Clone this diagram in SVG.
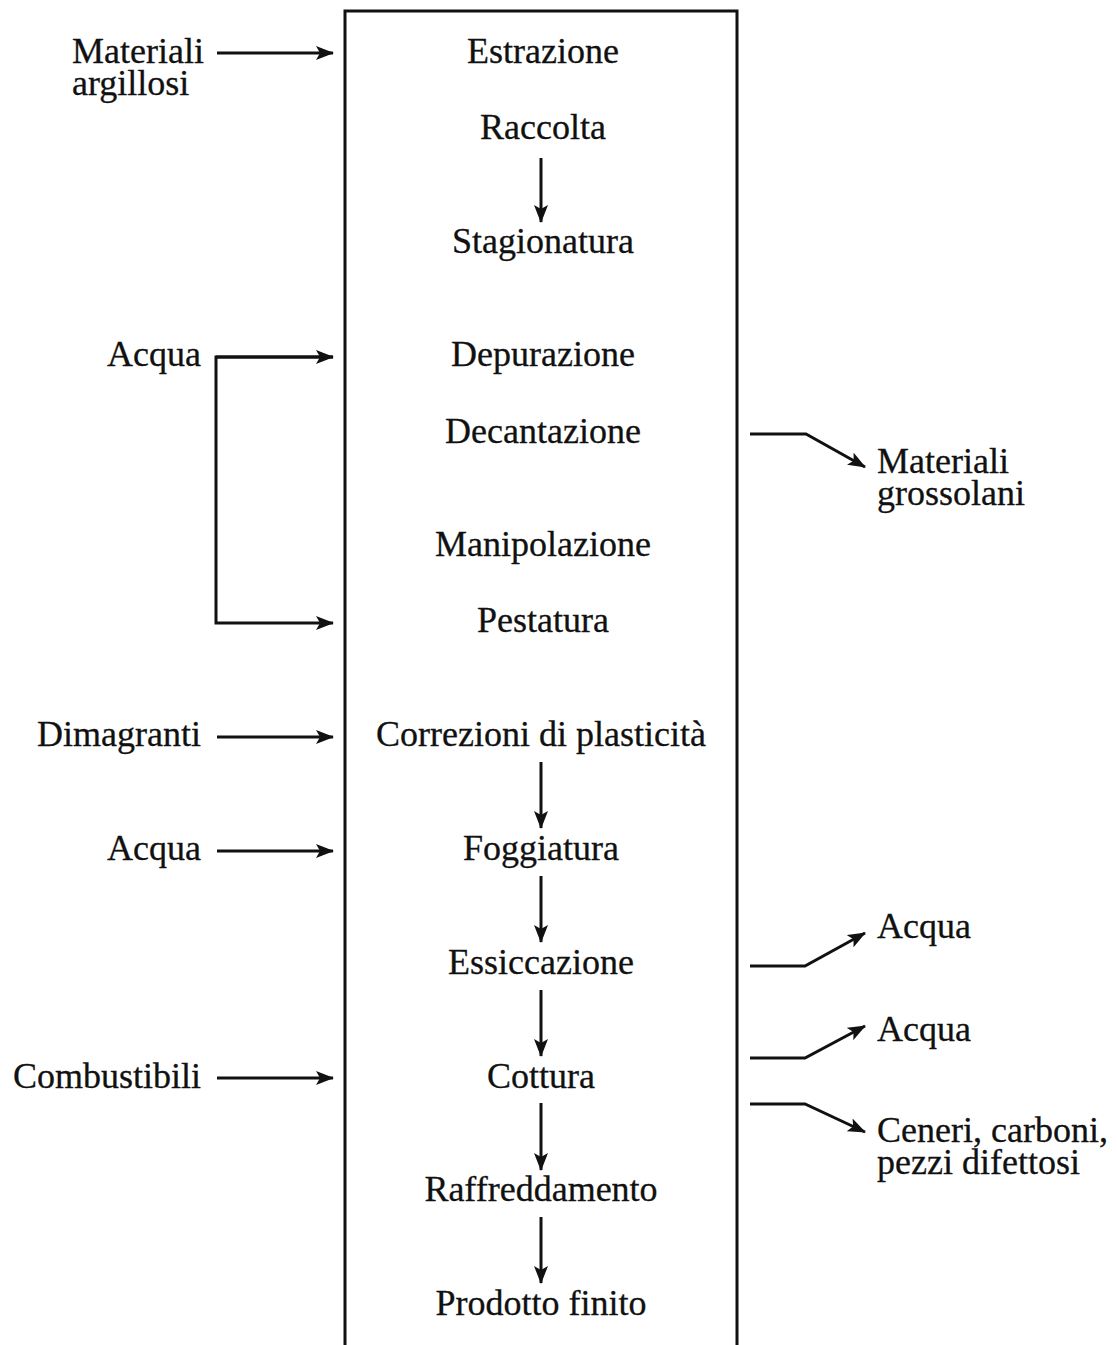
<svg xmlns="http://www.w3.org/2000/svg" width="1117" height="1345" viewBox="0 0 1117 1345">
<style>
text{font-family:"Liberation Serif","Times New Roman",serif;font-size:36px;fill:#111;stroke:#111;stroke-width:0.3}
.c{text-anchor:middle}
.r{text-anchor:end}
.ln{fill:none;stroke:#111;stroke-width:3}
</style>
<defs>
<marker id="ah" viewBox="0 0 18 14" refX="17" refY="7" markerWidth="18" markerHeight="14" markerUnits="userSpaceOnUse" orient="auto">
<path d="M0,0 L18,7 L0,14 L4,7 Z" fill="#111"/>
</marker>
</defs>
<rect width="1117" height="1345" fill="#fff"/>
<g id="box"><path class="ln" d="M345,1350 V11 H737 V1350"/></g>
<g id="steps">
<g id="n-estrazione"><text class="c" x="543" y="63">Estrazione</text></g>
<g id="n-raccolta"><text class="c" x="543" y="139">Raccolta</text></g>
<g id="n-stagionatura"><text class="c" x="543" y="253">Stagionatura</text></g>
<g id="n-depurazione"><text class="c" x="543" y="366">Depurazione</text></g>
<g id="n-decantazione"><text class="c" x="543" y="443">Decantazione</text></g>
<g id="n-manipolazione"><text class="c" x="543" y="556">Manipolazione</text></g>
<g id="n-pestatura"><text class="c" x="543" y="632">Pestatura</text></g>
<g id="n-correzioni"><text class="c" x="541" y="746">Correzioni di plasticità</text></g>
<g id="n-foggiatura"><text class="c" x="541" y="860">Foggiatura</text></g>
<g id="n-essiccazione"><text class="c" x="541" y="974">Essiccazione</text></g>
<g id="n-cottura"><text class="c" x="541" y="1088">Cottura</text></g>
<g id="n-raffreddamento"><text class="c" x="541" y="1201">Raffreddamento</text></g>
<g id="n-prodotto"><text class="c" x="541" y="1315">Prodotto finito</text></g>
</g>
<g id="inputs">
<g id="in-materiali"><text x="72" y="63">Materiali<tspan x="72" dy="32">argillosi</tspan></text></g>
<g id="in-acqua1"><text class="r" x="201" y="366">Acqua</text></g>
<g id="in-dimagranti"><text class="r" x="201" y="746">Dimagranti</text></g>
<g id="in-acqua2"><text class="r" x="201" y="860">Acqua</text></g>
<g id="in-combustibili"><text class="r" x="201" y="1088">Combustibili</text></g>
</g>
<g id="outputs">
<g id="out-grossolani"><text x="877" y="473">Materiali<tspan x="877" dy="32">grossolani</tspan></text></g>
<g id="out-acqua1"><text x="877" y="938">Acqua</text></g>
<g id="out-acqua2"><text x="877" y="1041">Acqua</text></g>
<g id="out-ceneri"><text x="877" y="1142">Ceneri, carboni,<tspan x="877" dy="32">pezzi difettosi</tspan></text></g>
</g>
<g id="connectors">
<path class="ln" marker-end="url(#ah)" d="M541,158 V222"/>
<path class="ln" marker-end="url(#ah)" d="M541,762 V828"/>
<path class="ln" marker-end="url(#ah)" d="M541,876 V942"/>
<path class="ln" marker-end="url(#ah)" d="M541,990 V1056"/>
<path class="ln" marker-end="url(#ah)" d="M541,1103 V1170"/>
<path class="ln" marker-end="url(#ah)" d="M541,1217 V1283"/>
<path class="ln" marker-end="url(#ah)" d="M217,53 H333"/>
<path class="ln" marker-end="url(#ah)" d="M333,357 H216 V623 H333"/>
<path class="ln" marker-end="url(#ah)" d="M216,357 H333"/>
<path class="ln" marker-end="url(#ah)" d="M217,737 H333"/>
<path class="ln" marker-end="url(#ah)" d="M217,851 H333"/>
<path class="ln" marker-end="url(#ah)" d="M217,1078 H333"/>
<path class="ln" marker-end="url(#ah)" d="M750,434 H806 L865,467"/>
<path class="ln" marker-end="url(#ah)" d="M750,966 H805 L865,933"/>
<path class="ln" marker-end="url(#ah)" d="M750,1058 H805 L865,1026"/>
<path class="ln" marker-end="url(#ah)" d="M750,1104 H805 L865,1132"/>
</g>
</svg>
